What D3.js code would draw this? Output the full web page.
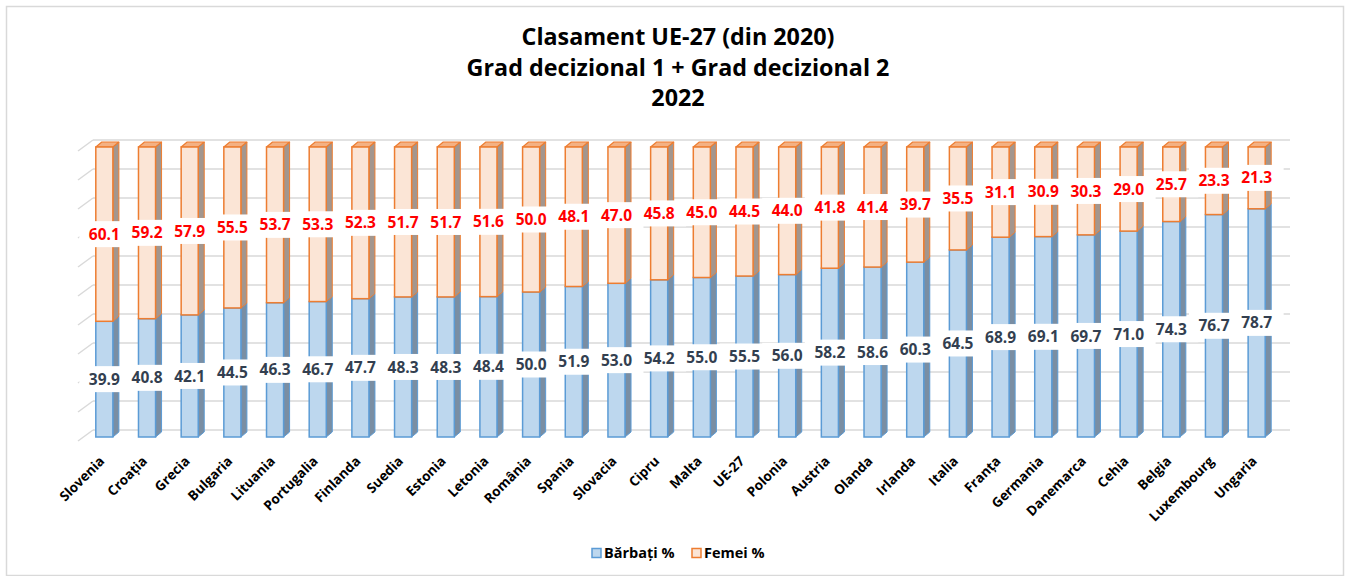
<!DOCTYPE html>
<html>
<head>
<meta charset="utf-8">
<script src="https://cdnjs.cloudflare.com/ajax/libs/d3/7.8.5/d3.min.js"></script>
<style>
  body { margin: 0; background: #fff; }
  svg { display: block; font-family: "Open Sans", "Liberation Sans", sans-serif; }
</style>
</head>
<body>
<svg id="chart" width="1351" height="576"></svg>
<script>
var countries = ['Slovenia', 'Croația', 'Grecia', 'Bulgaria', 'Lituania', 'Portugalia', 'Finlanda', 'Suedia', 'Estonia', 'Letonia',
  'România', 'Spania', 'Slovacia', 'Cipru', 'Malta', 'UE-27', 'Polonia', 'Austria', 'Olanda', 'Irlanda',
  'Italia', 'Franța', 'Germania', 'Danemarca', 'Cehia', 'Belgia', 'Luxembourg', 'Ungaria'];
var barbati = [39.9, 40.8, 42.1, 44.5, 46.3, 46.7, 47.7, 48.3, 48.3, 48.4,
  50.0, 51.9, 53.0, 54.2, 55.0, 55.5, 56.0, 58.2, 58.6, 60.3,
  64.5, 68.9, 69.1, 69.7, 71.0, 74.3, 76.7, 78.7];
var femei = [60.1, 59.2, 57.9, 55.5, 53.7, 53.3, 52.3, 51.7, 51.7, 51.6,
  50.0, 48.1, 47.0, 45.8, 45.0, 44.5, 44.0, 41.8, 41.4, 39.7,
  35.5, 31.1, 30.9, 30.3, 29.0, 25.7, 23.3, 21.3];
var titleLines = ['Clasament UE-27 (din 2020)', 'Grad decizional 1 + Grad decizional 2', '2022'];
var legendNames = ['Bărbați %', 'Femei %'];
var gridTicks = [0, 10, 20, 30, 40, 50, 60, 70, 80, 90, 100];

var svg = d3.select('#chart');

// chart frame
svg.append('rect')
  .attr('x', 6.5).attr('y', 6.5)
  .attr('width', 1337).attr('height', 569)
  .attr('fill', '#fff').attr('stroke', '#d9d9d9').attr('stroke-width', 1.5);

var x = d3.scaleBand()
    .domain(countries)
    .range([83, 1278])
    .paddingInner(0.6)
    .paddingOuter(0.3),
  y = d3.scaleLinear()
    .domain([0, 100])
    .range([437, 147]);

var depth = {dx: 6, dy: -5};   // bar depth
var wall = {dx: 15, dy: -11};  // floor depth, front -> back wall

// back wall gridlines + side wall diagonals
var grid = svg.append('g');
grid.selectAll('.gl').data(gridTicks).enter()
  .append('line')
  .attr('x1', 78 + wall.dx).attr('x2', 1290)
  .attr('y1', function(d){ return y(d) - 7; })
  .attr('y2', function(d){ return y(d) - 7; })
  .attr('stroke', '#d9d9d9').attr('stroke-width', 1.5);
grid.selectAll('.gd').data(gridTicks).enter()
  .append('line')
  .attr('x1', 78 + wall.dx).attr('x2', 78)
  .attr('y1', function(d){ return y(d) - 7; })
  .attr('y2', function(d){ return y(d) - 7 - wall.dy; })
  .attr('stroke', '#d9d9d9').attr('stroke-width', 1.5);

// stacked segments
var rows = countries.map(function(c, i){
  return {name: c, b: barbati[i], f: femei[i]};
});
var segs = [];
rows.forEach(function(r){
  segs.push({name: r.name, y0: 0, y1: r.b, v: r.b, s: 0});
  segs.push({name: r.name, y0: r.b, y1: r.b + r.f, v: r.f, s: 1});
});
var fills = ['#bdd7ee', '#fbe5d6'],
    strokes = ['#5b9bd5', '#ed7d31'],
    sides = ['#7a8ea3', '#a3968e'],
    labelColors = ['#333f50', '#ff0000'];

var w = x.bandwidth();
var bars = svg.append('g').selectAll('g').data(segs).enter().append('g');

// side face
bars.append('path')
  .attr('d', function(d){
    var xr = x(d.name) + w, yt = y(d.y1), yb = y(d.y0);
    return 'M' + xr + ',' + yt + 'L' + (xr + depth.dx) + ',' + (yt + depth.dy) +
      'L' + (xr + depth.dx) + ',' + (yb + depth.dy) + 'L' + xr + ',' + yb + 'Z';
  })
  .attr('fill', function(d){ return sides[d.s]; })
  .attr('stroke', function(d){ return strokes[d.s]; })
  .attr('stroke-width', 1)
  .attr('stroke-linejoin', 'round');

// top face (only on the top segment)
bars.filter(function(d){ return d.s === 1; }).append('path')
  .attr('d', function(d){
    var xl = x(d.name), yt = y(d.y1);
    return 'M' + xl + ',' + yt + 'L' + (xl + depth.dx) + ',' + (yt + depth.dy) +
      'L' + (xl + w + depth.dx) + ',' + (yt + depth.dy) + 'L' + (xl + w) + ',' + yt + 'Z';
  })
  .attr('fill', '#f4b183')
  .attr('stroke', '#ed7d31')
  .attr('stroke-width', 1.2)
  .attr('stroke-linejoin', 'round');

// front face
bars.append('rect')
  .attr('x', function(d){ return x(d.name); })
  .attr('y', function(d){ return y(d.y1); })
  .attr('width', w)
  .attr('height', function(d){ return y(d.y0) - y(d.y1); })
  .attr('fill', function(d){ return fills[d.s]; })
  .attr('stroke', function(d){ return strokes[d.s]; })
  .attr('stroke-width', 1.5);

// value labels with white boxes
var labels = svg.append('g').selectAll('g').data(segs).enter().append('g')
  .attr('transform', function(d){
    return 'translate(' + (x(d.name) + w / 2) + ',' + ((y(d.y0) + y(d.y1)) / 2) + ')';
  });
labels.append('rect')
  .attr('x', -25).attr('y', -13)
  .attr('width', 52).attr('height', 26)
  .attr('fill', '#fff');
labels.append('text')
  .attr('text-anchor', 'middle')
  .attr('dy', '0.36em')
  .style('font-size', '15.5px')
  .style('font-weight', 'bold')
  .attr('fill', function(d){ return labelColors[d.s]; })
  .text(function(d){ return d.v.toFixed(1); });

// category labels
svg.append('g').selectAll('text').data(countries).enter()
  .append('text')
  .attr('text-anchor', 'end')
  .attr('transform', function(d){
    return 'translate(' + (x(d) + w / 2 + 1) + ',462)rotate(-45)';
  })
  .style('font-size', '13.5px')
  .style('font-weight', 'bold')
  .attr('fill', '#000')
  .text(function(d){ return d; });

// title
svg.append('text')
  .attr('x', 678).attr('y', 45)
  .attr('text-anchor', 'middle')
  .style('font-size', '23.3px')
  .style('font-weight', 'bold')
  .selectAll('tspan').data(titleLines).enter()
  .append('tspan')
  .attr('x', 678)
  .attr('dy', function(d, i){ return i === 0 ? 0 : 30.5; })
  .text(function(d){ return d; });

// legend
var legend = svg.append('g').attr('transform', 'translate(592,553)');
var lx = [0, 100];
var li = legend.selectAll('g').data(legendNames).enter().append('g')
  .attr('transform', function(d, i){ return 'translate(' + lx[i] + ',0)'; });
li.append('rect')
  .attr('x', 0).attr('y', -4.5)
  .attr('width', 9).attr('height', 9)
  .attr('fill', function(d, i){ return fills[i]; })
  .attr('stroke', function(d, i){ return strokes[i]; })
  .attr('stroke-width', 1.5);
li.append('text')
  .attr('x', 12).attr('dy', '0.36em')
  .style('font-size', '14.5px')
  .style('font-weight', 'bold')
  .text(function(d){ return d; });
</script>
</body>
</html>
